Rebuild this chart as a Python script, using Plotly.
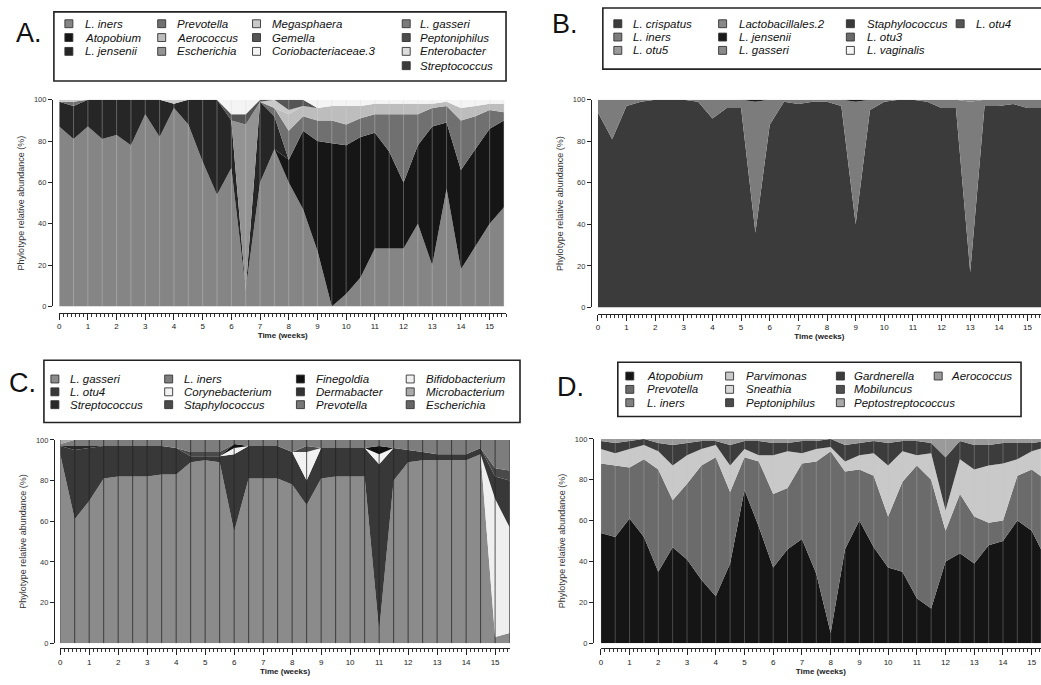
import plotly.graph_objects as go

W, H = 1041, 685
FONT = "Liberation Sans, Arial, sans-serif"

# ---------------- data ----------------
T = [0, 0.5, 1, 1.5, 2, 2.5, 3, 3.5, 4, 4.5, 5, 5.5, 6, 6.5, 7, 7.5,
     8, 8.5, 9, 9.5, 10, 10.5, 11, 11.5, 12, 12.5, 13, 13.5, 14, 14.5, 15, 15.5]

# Panel A
A_iners = [87, 81, 87, 81, 83, 78, 93, 82, 96, 88, 70, 54, 67, 8, 60, 76, 60, 47, 27, 0, 6, 14, 28, 28, 28, 40, 20, 57, 18, 29, 40, 48]
A_atopobium = [0, 0, 0, 0, 0, 0, 0, 0, 0, 0, 0, 0, 0, 0, 0, 0, 11, 38, 53, 79, 72, 68, 56, 47, 32, 38, 67, 32, 48, 47, 46, 42]
A_jensenii = [12, 16, 13, 19, 17, 22, 7, 18, 2, 12, 30, 46, 23, 0, 39, 16, 0, 0, 0, 0, 0, 0, 0, 0, 0, 0, 0, 0, 0, 0, 0, 0]
A_prevotella = [0, 2, 0, 0, 0, 0, 0, 0, 0, 0, 0, 0, 0, 0, 0, 4, 14, 7, 10, 11, 10, 9, 9, 18, 33, 15, 9, 8, 24, 16, 9, 4]
A_aerococcus = [0, 0, 0, 0, 0, 0, 0, 0, 0, 0, 0, 0, 0, 0, 0, 0, 8, 5, 6, 7, 9, 6, 5, 5, 5, 5, 2, 2, 6, 5, 3, 4]
A_escherichia = [0, 0, 0, 0, 0, 0, 0, 0, 0, 0, 0, 0, 0, 80, 0, 0, 0, 0, 0, 0, 0, 0, 0, 0, 0, 0, 0, 0, 0, 0, 0, 0]
A_megasphaera = [1, 1, 0, 0, 0, 0, 0, 0, 2, 0, 0, 0, 0, 0, 0, 4, 2, 0, 0, 0, 0, 0, 0, 0, 0, 0, 0, 0, 0, 0, 0, 0]
A_gemella = [0, 0, 0, 0, 0, 0, 0, 0, 0, 0, 0, 0, 3, 5, 1, 0, 5, 3, 0, 0, 0, 0, 0, 0, 0, 0, 0, 0, 0, 0, 0, 0]
A_corio = [0, 0, 0, 0, 0, 0, 0, 0, 0, 0, 0, 0, 7, 7, 0, 0, 0, 0, 4, 3, 3, 3, 2, 2, 2, 2, 2, 1, 4, 3, 2, 2]
A_gasseri = [0, 0, 0, 0, 0, 0, 0, 0, 0, 0, 0, 0, 0, 0, 0, 0, 0, 0, 0, 0, 0, 0, 0, 0, 0, 0, 0, 0, 0, 0, 0, 0]
A_peptoniphilus = [0, 0, 0, 0, 0, 0, 0, 0, 0, 0, 0, 0, 0, 0, 0, 0, 0, 0, 0, 0, 0, 0, 0, 0, 0, 0, 0, 0, 0, 0, 0, 0]
A_enterobacter = [0, 0, 0, 0, 0, 0, 0, 0, 0, 0, 0, 0, 0, 0, 0, 0, 0, 0, 0, 0, 0, 0, 0, 0, 0, 0, 0, 0, 0, 0, 0, 0]
A_streptococcus = [0, 0, 0, 0, 0, 0, 0, 0, 0, 0, 0, 0, 0, 0, 0, 0, 0, 0, 0, 0, 0, 0, 0, 0, 0, 0, 0, 0, 0, 0, 0, 0]

# Panel B
B_crispatus = [94, 81, 97, 99, 100, 100, 100, 99, 91, 96, 96, 36, 88, 99, 98, 99, 99, 97, 40, 95, 99, 100, 100, 99, 96, 96, 17, 97, 97, 98, 96, 96]
B_iners = [6, 19, 3, 1, 0, 0, 0, 1, 9, 4, 4, 63, 12, 1, 2, 1, 1, 3, 59, 5, 1, 0, 0, 1, 4, 4, 82, 3, 3, 2, 4, 4]
B_otu5 = [0, 0, 0, 0, 0, 0, 0, 0, 0, 0, 0, 0, 0, 0, 0, 0, 0, 0, 0, 0, 0, 0, 0, 0, 0, 0, 0, 0, 0, 0, 0, 0]
B_lactobacillales2 = [0, 0, 0, 0, 0, 0, 0, 0, 0, 0, 0, 0, 0, 0, 0, 0, 0, 0, 0, 0, 0, 0, 0, 0, 0, 0, 1, 0, 0, 0, 0, 0]
B_jensenii = [0, 0, 0, 0, 0, 0, 0, 0, 0, 0, 0, 1, 0, 0, 0, 0, 0, 0, 1, 0, 0, 0, 0, 0, 0, 0, 0, 0, 0, 0, 0, 0]
B_gasseri = [0, 0, 0, 0, 0, 0, 0, 0, 0, 0, 0, 0, 0, 0, 0, 0, 0, 0, 0, 0, 0, 0, 0, 0, 0, 0, 0, 0, 0, 0, 0, 0]
B_staphylococcus = [0, 0, 0, 0, 0, 0, 0, 0, 0, 0, 0, 0, 0, 0, 0, 0, 0, 0, 0, 0, 0, 0, 0, 0, 0, 0, 0, 0, 0, 0, 0, 0]
B_otu3 = [0, 0, 0, 0, 0, 0, 0, 0, 0, 0, 0, 0, 0, 0, 0, 0, 0, 0, 0, 0, 0, 0, 0, 0, 0, 0, 0, 0, 0, 0, 0, 0]
B_vaginalis = [0, 0, 0, 0, 0, 0, 0, 0, 0, 0, 0, 0, 0, 0, 0, 0, 0, 0, 0, 0, 0, 0, 0, 0, 0, 0, 0, 0, 0, 0, 0, 0]
B_otu4 = [0, 0, 0, 0, 0, 0, 0, 0, 0, 0, 0, 0, 0, 0, 0, 0, 0, 0, 0, 0, 0, 0, 0, 0, 0, 0, 0, 0, 0, 0, 0, 0]

# Panel C
C_gasseri = [93, 61, 70, 81, 82, 82, 82, 83, 83, 89, 90, 89, 55, 81, 81, 81, 78, 68, 81, 82, 82, 82, 6, 80, 89, 90, 90, 90, 90, 93, 3, 5]
C_bifidobacterium = [0, 0, 0, 0, 0, 0, 0, 0, 0, 0, 0, 0, 0, 0, 0, 0, 0, 0, 0, 0, 0, 0, 0, 0, 0, 0, 0, 0, 0, 0, 68, 52]
C_otu4 = [4, 34, 26, 16, 15, 15, 15, 14, 13, 3, 2, 3, 38, 16, 16, 16, 16, 12, 15, 14, 14, 14, 82, 16, 6, 4, 3, 3, 3, 3, 11, 23]
C_streptococcus = [0, 2, 1, 0, 0, 0, 0, 0, 0, 0, 0, 0, 0, 0, 0, 0, 0, 0, 0, 0, 0, 0, 0, 0, 0, 0, 0, 0, 0, 0, 0, 0]
C_corynebacterium = [0, 0, 0, 0, 0, 0, 0, 0, 0, 0, 0, 0, 3, 0, 0, 0, 0, 14, 0, 0, 0, 0, 5, 0, 0, 0, 0, 0, 0, 0, 0, 0]
C_finegoldia = [0, 0, 0, 0, 0, 0, 0, 0, 0, 0, 0, 0, 2, 0, 0, 0, 0, 0, 0, 0, 0, 0, 4, 0, 0, 0, 0, 0, 0, 0, 0, 0]
C_staphylococcus = [0, 0, 0, 0, 0, 0, 0, 0, 0, 2, 2, 2, 0, 0, 0, 0, 0, 3, 0, 0, 0, 0, 0, 0, 0, 0, 0, 0, 0, 0, 4, 5]
C_iners = [1, 3, 3, 3, 3, 3, 3, 3, 4, 6, 6, 6, 2, 3, 3, 3, 6, 3, 4, 4, 4, 4, 3, 4, 5, 6, 7, 7, 7, 4, 14, 15]
C_dermabacter = [0, 0, 0, 0, 0, 0, 0, 0, 0, 0, 0, 0, 0, 0, 0, 0, 0, 0, 0, 0, 0, 0, 0, 0, 0, 0, 0, 0, 0, 0, 0, 0]
C_prevotella = [0, 0, 0, 0, 0, 0, 0, 0, 0, 0, 0, 0, 0, 0, 0, 0, 0, 0, 0, 0, 0, 0, 0, 0, 0, 0, 0, 0, 0, 0, 0, 0]
C_microbacterium = [2, 0, 0, 0, 0, 0, 0, 0, 0, 0, 0, 0, 0, 0, 0, 0, 0, 0, 0, 0, 0, 0, 0, 0, 0, 0, 0, 0, 0, 0, 0, 0]
C_escherichia = [0, 0, 0, 0, 0, 0, 0, 0, 0, 0, 0, 0, 0, 0, 0, 0, 0, 0, 0, 0, 0, 0, 0, 0, 0, 0, 0, 0, 0, 0, 0, 0]

# Panel D
D_atopobium = [54, 52, 61, 52, 35, 47, 41, 31, 23, 39, 75, 57, 37, 46, 51, 34, 5, 46, 60, 47, 37, 35, 22, 17, 40, 44, 39, 48, 50, 60, 55, 41]
D_prevotella = [34, 35, 25, 38, 50, 23, 37, 56, 68, 35, 16, 32, 36, 30, 37, 55, 89, 38, 25, 35, 25, 44, 65, 63, 15, 29, 23, 11, 10, 22, 30, 39]
D_iners = [0, 0, 0, 0, 0, 0, 0, 0, 0, 0, 0, 0, 0, 0, 0, 0, 0, 0, 0, 0, 0, 0, 0, 0, 0, 0, 0, 0, 0, 0, 0, 0]
D_parvimonas = [7, 6, 9, 7, 9, 17, 14, 8, 6, 13, 4, 3, 19, 18, 5, 6, 2, 5, 7, 11, 25, 15, 5, 13, 10, 17, 23, 28, 28, 8, 9, 16]
D_sneathia = [0, 0, 0, 0, 0, 0, 0, 0, 0, 0, 0, 0, 0, 0, 0, 0, 0, 0, 0, 0, 0, 0, 0, 0, 0, 0, 0, 0, 0, 0, 0, 0]
D_peptoniphilus = [0, 0, 0, 0, 0, 0, 0, 0, 0, 0, 0, 0, 0, 0, 0, 0, 0, 0, 0, 0, 0, 0, 0, 0, 0, 0, 0, 0, 0, 0, 0, 0]
D_gardnerella = [4, 5, 4, 3, 4, 10, 6, 4, 2, 10, 4, 7, 6, 4, 6, 4, 4, 8, 6, 6, 11, 5, 7, 5, 26, 9, 12, 10, 10, 8, 4, 3]
D_mobiluncus = [0, 0, 0, 0, 0, 0, 0, 0, 0, 0, 0, 0, 0, 0, 0, 0, 0, 0, 0, 0, 0, 0, 0, 0, 0, 0, 0, 0, 0, 0, 0, 0]
D_peptostreptococcus = [0, 0, 0, 0, 0, 0, 0, 0, 0, 0, 0, 0, 0, 0, 0, 0, 0, 0, 0, 0, 0, 0, 0, 0, 0, 0, 0, 0, 0, 0, 0, 0]
D_aerococcus = [1, 2, 1, 0, 2, 3, 2, 1, 1, 3, 1, 1, 2, 2, 1, 1, 0, 3, 2, 1, 2, 1, 1, 2, 9, 1, 3, 3, 2, 2, 2, 1]

# ---------------- styling ----------------
# stack order bottom -> top: (legend name, values, colour)
PANELS = {
    "A": dict(
        stack=[("L. iners", A_iners, "#858585"), ("Atopobium", A_atopobium, "#161616"),
               ("L. jensenii", A_jensenii, "#262626"), ("Prevotella", A_prevotella, "#707070"),
               ("Aerococcus", A_aerococcus, "#bdbdbd"), ("Escherichia", A_escherichia, "#939393"),
               ("Megasphaera", A_megasphaera, "#c9c9c9"), ("Gemella", A_gemella, "#555555"),
               ("Coriobacteriaceae.3", A_corio, "#f4f4f4"), ("L. gasseri", A_gasseri, "#7a7a7a"),
               ("Peptoniphilus", A_peptoniphilus, "#4d4d4d"), ("Enterobacter", A_enterobacter, "#dcdcdc"),
               ("Streptococcus", A_streptococcus, "#3a3a3a")],
        cols=[["L. iners", "Atopobium", "L. jensenii"], ["Prevotella", "Aerococcus", "Escherichia"],
              ["Megasphaera", "Gemella", "Coriobacteriaceae.3"],
              ["L. gasseri", "Peptoniphilus", "Enterobacter", "Streptococcus"]],
        sw_x=[67, 160, 255, 405], tx_x=[82, 174, 270, 418], rows=[20, 34, 48, 62.5],
        box=(52, 8, 505, 78), label=(27, 29),
        data_x=(57.3, 28.75), xmax=15.58, ytop=97, ybot=306.5, yaxis_x=50, xaxis_y=313,
        vline="rgba(215,215,215,0.35)"),
    "B": dict(
        stack=[("L. crispatus", B_crispatus, "#3b3b3b"), ("L. iners", B_iners, "#7c7c7c"),
               ("L. otu5", B_otu5, "#9a9a9a"), ("Lactobacillales.2", B_lactobacillales2, "#888888"),
               ("L. jensenii", B_jensenii, "#1a1a1a"), ("L. gasseri", B_gasseri, "#8a8a8a"),
               ("Staphylococcus", B_staphylococcus, "#3a3a3a"), ("L. otu3", B_otu3, "#6a6a6a"),
               ("L. vaginalis", B_vaginalis, "#f5f5f5"), ("L. otu4", B_otu4, "#555555")],
        cols=[["L. crispatus", "L. iners", "L. otu5"], ["Lactobacillales.2", "L. jensenii", "L. gasseri"],
              ["Staphylococcus", "L. otu3", "L. vaginalis"], ["L. otu4"]],
        sw_x=[617, 722, 850, 960], tx_x=[631, 737, 866, 975], rows=[20, 33.5, 47],
        box=(602, 4, 1050, 66), label=(564, 20),
        data_x=(597, 28.7), xmax=15.47, ytop=97, ybot=307.5, yaxis_x=590, xaxis_y=314,
        vline=None),
    "C": dict(
        stack=[("L. gasseri", C_gasseri, "#8b8b8b"), ("Bifidobacterium", C_bifidobacterium, "#efefef"),
               ("L. otu4", C_otu4, "#383838"), ("Streptococcus", C_streptococcus, "#2a2a2a"),
               ("Corynebacterium", C_corynebacterium, "#f2f2f2"), ("Finegoldia", C_finegoldia, "#111111"),
               ("Staphylococcus", C_staphylococcus, "#4a4a4a"), ("L. iners", C_iners, "#7d7d7d"),
               ("Dermabacter", C_dermabacter, "#333333"), ("Prevotella", C_prevotella, "#777777"),
               ("Microbacterium", C_microbacterium, "#aaaaaa"), ("Escherichia", C_escherichia, "#666666")],
        cols=[["L. gasseri", "L. otu4", "Streptococcus"], ["L. iners", "Corynebacterium", "Staphylococcus"],
              ["Finegoldia", "Dermabacter", "Prevotella"], ["Bifidobacterium", "Microbacterium", "Escherichia"]],
        sw_x=[53, 167, 299, 409], tx_x=[67, 181, 314, 424], rows=[380, 393, 406],
        box=(42, 361, 519, 424), label=(21, 384),
        data_x=(58.3, 29.05), xmax=15.51, ytop=441.7, ybot=647.7, yaxis_x=52, xaxis_y=653,
        vline="rgba(35,35,35,0.75)"),
    "D": dict(
        stack=[("Atopobium", D_atopobium, "#151515"), ("Prevotella", D_prevotella, "#6b6b6b"),
               ("L. iners", D_iners, "#808080"), ("Parvimonas", D_parvimonas, "#c9c9c9"),
               ("Sneathia", D_sneathia, "#d8d8d8"), ("Peptoniphilus", D_peptoniphilus, "#4a4a4a"),
               ("Gardnerella", D_gardnerella, "#3c3c3c"), ("Mobiluncus", D_mobiluncus, "#505050"),
               ("Peptostreptococcus", D_peptostreptococcus, "#a8a8a8"), ("Aerococcus", D_aerococcus, "#9a9a9a")],
        cols=[["Atopobium", "Prevotella", "L. iners"], ["Parvimonas", "Sneathia", "Peptoniphilus"],
              ["Gardnerella", "Mobiluncus", "Peptostreptococcus"], ["Aerococcus"]],
        sw_x=[629, 729, 840, 938], tx_x=[645, 744, 853, 950], rows=[377, 390.5, 404],
        box=(617, 363, 1021, 418), label=(570, 388),
        data_x=(600, 28.78), xmax=15.32, ytop=440.7, ybot=647.7, yaxis_x=592, xaxis_y=653,
        vline="rgba(200,200,200,0.3)"),
}


def px(x):
    return x / W


def py(y):
    return 1 - y / H


fig = go.Figure()
shapes = []
annotations = []
layout_axes = {}

for i, (key, p) in enumerate(PANELS.items()):
    sfx = "" if i == 0 else str(i + 1)
    xa, ya = "x" + sfx, "y" + sfx
    colour_of = {}
    for j, (name, vals, col) in enumerate(p["stack"]):
        colour_of[name] = col
        tr = dict(x=T, y=vals, name=name, stackgroup=key, mode="none",
                  fillcolor=col, line=dict(width=0), showlegend=False,
                  xaxis=xa, yaxis=ya, hoverinfo="skip")
        if j == 0:
            tr["groupnorm"] = "percent"
        fig.add_trace(go.Scatter(**tr))

    x0, pxw = p["data_x"]
    xr = x0 + p["xmax"] * pxw
    layout_axes["xaxis" + sfx] = dict(
        domain=[px(x0), min(1.0, px(xr))], range=[0, p["xmax"]], anchor="free",
        position=py(p["xaxis_y"]), showline=True, linecolor="#222", linewidth=1,
        ticks="outside", ticklen=6, tickwidth=1, tickcolor="#222", dtick=1, tick0=0,
        tickfont=dict(size=8, family=FONT, color="#222"), showgrid=False, zeroline=False,
        minor=dict(ticks="outside", ticklen=3, dtick=1 / 7, tick0=0, tickcolor="#333",
                   tickwidth=0.8, showgrid=False),
        title=dict(text="<b>Time (weeks)</b>", font=dict(size=8, family=FONT, color="#222"),
                   standoff=1))
    layout_axes["yaxis" + sfx] = dict(
        domain=[py(p["ybot"]), py(p["ytop"])], range=[0, 100], anchor="free",
        position=px(p["yaxis_x"]), showline=True, linecolor="#222", linewidth=1,
        ticks="outside", ticklen=4, tickwidth=1, tickcolor="#222", dtick=20, tick0=0,
        tickfont=dict(size=7.5, family=FONT, color="#333"), showgrid=False, zeroline=False,
        title=dict(text="Phylotype relative abundance (%)",
                   font=dict(size=9, family=FONT, color="#333"), standoff=6))

    # sample lines
    if p["vline"]:
        for t in T:
            if t <= p["xmax"]:
                shapes.append(dict(type="line", xref=xa, yref=ya, x0=t, x1=t, y0=0, y1=100,
                                   line=dict(color=p["vline"], width=1), layer="above"))

    # legend box
    bx0, by0, bx1, by1 = p["box"]
    shapes.append(dict(type="rect", xref="paper", yref="paper", x0=px(bx0), x1=px(bx1),
                       y0=py(by1), y1=py(by0), line=dict(color="#222", width=1.6),
                       fillcolor="rgba(0,0,0,0)"))
    for c, names in enumerate(p["cols"]):
        for r, name in enumerate(names):
            cy = p["rows"][r]
            sx = p["sw_x"][c]
            shapes.append(dict(type="rect", xref="paper", yref="paper",
                               x0=px(sx - 4), x1=px(sx + 4), y0=py(cy + 4), y1=py(cy - 4),
                               line=dict(color="#333", width=0.9), fillcolor=colour_of[name]))
            annotations.append(dict(text="<i>" + name + "</i>", xref="paper", yref="paper",
                                    x=px(p["tx_x"][c]), y=py(cy), xanchor="left", yanchor="middle",
                                    showarrow=False, borderpad=0,
                                    font=dict(size=11.5, family=FONT, color="#111")))
    lx, ly = p["label"]
    annotations.append(dict(text=key + ".", xref="paper", yref="paper", x=px(lx), y=py(ly),
                            xanchor="center", yanchor="middle", showarrow=False,
                            font=dict(size=27, family=FONT, color="#111")))

fig.update_layout(
    width=W, height=H, margin=dict(l=0, r=0, t=0, b=0),
    paper_bgcolor="white", plot_bgcolor="white", showlegend=False,
    font=dict(family=FONT), shapes=shapes, annotations=annotations, **layout_axes)

fig.write_html("out.html")
